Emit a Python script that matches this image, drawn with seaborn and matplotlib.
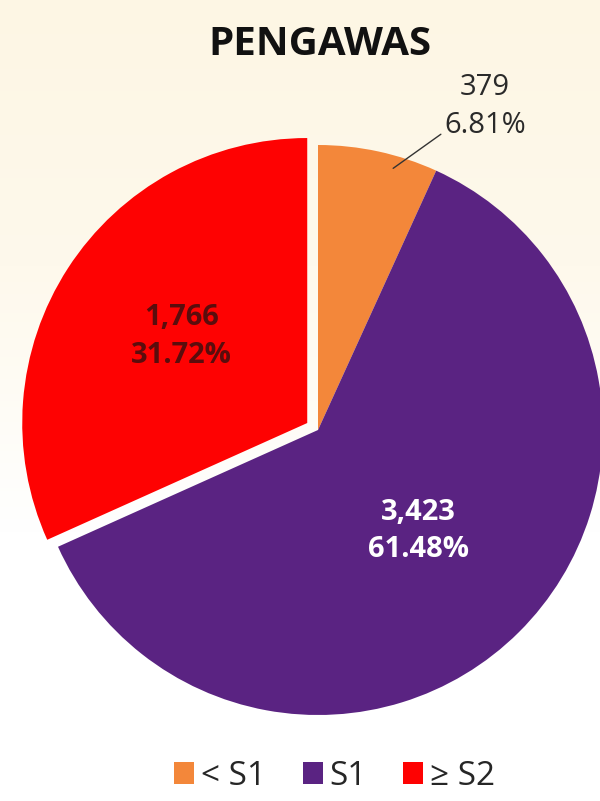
import numpy as np
import matplotlib
matplotlib.use("Agg")
import matplotlib.pyplot as plt
from matplotlib.colors import LinearSegmentedColormap
import seaborn as sns

categories = ["< S1", "S1", "≥ S2"]
counts = [379, 3423, 1766]
percent_labels = ["6.81%", "61.48%", "31.72%"]
count_labels = ["379", "3,423", "1,766"]
colors = ["#F3873A", "#5A2382", "#FE0202"]
title = "PENGAWAS"

sns.set_style("white")
plt.rcParams['font.family'] = ['Open Sans', 'DejaVu Sans']

fig = plt.figure(figsize=(6, 8.01), dpi=100)

# background gradient (cream to white)
bg = fig.add_axes([0, 0, 1, 1], zorder=0)
grad = np.linspace(0, 1, 256).reshape(-1, 1)
cmap = LinearSegmentedColormap.from_list("bg", ["#FFFFFF", "#FFFFFF", "#FEF9EC", "#FDF6E4"])
bg.imshow(grad, aspect="auto", cmap=cmap, origin="lower", extent=[0, 1, 0, 1])
bg.axis("off")

ax = fig.add_axes([0, 0, 1, 1], zorder=1)
ax.patch.set_alpha(0)
wedges, _ = ax.pie(counts, colors=colors, startangle=90, counterclock=False,
                   explode=[0, 0, 0.045], radius=1.0,
                   wedgeprops=dict(linewidth=0))
ax.set_aspect("auto")
ax.set_xlim(-318 / 285, (600 - 318) / 285)
ax.set_ylim(-371 / 285, 430 / 285)
ax.axis("off")

# labels
for i, w in enumerate(wedges):
    th = np.deg2rad((w.theta1 + w.theta2) / 2)
    cx, cy = w.center
    txt = f"{count_labels[i]}\n{percent_labels[i]}"
    if i == 0:
        ax.annotate(txt, xy=(cx + 0.96 * np.cos(th) + 0.06, cy + 0.96 * np.sin(th) - 0.02),
                    xytext=(0.586, 1.135), ha="center", va="center",
                    fontsize=21, color="#2a2a2a", linespacing=1.4,
                    arrowprops=dict(arrowstyle="-", color="#333333", lw=1,
                                    relpos=(0.0, 0.12), shrinkA=0, shrinkB=0))
    elif i == 1:
        ax.text(cx + 0.5 * np.cos(th), cy + 0.5 * np.sin(th), txt, ha="center",
                va="center", fontsize=21, fontweight="bold", color="white",
                linespacing=1.4)
    else:
        ax.text(cx + 0.56 * np.cos(th) + 0.03, cy + 0.56 * np.sin(th), txt, ha="center",
                va="center", fontsize=21, fontweight="bold", color="#5A0D0D",
                linespacing=1.4)

fig.text(0.533, 0.944, title, ha="center", va="center", fontsize=29,
         fontweight="bold", color="#111111")

fig.legend(wedges, categories, loc="center", bbox_to_anchor=(0.558, 0.031),
           ncol=3, frameon=False, fontsize=24, handlelength=0.6,
           handleheight=0.6, handletextpad=0.2, columnspacing=1.1)

fig.savefig("out.png", dpi=100)
